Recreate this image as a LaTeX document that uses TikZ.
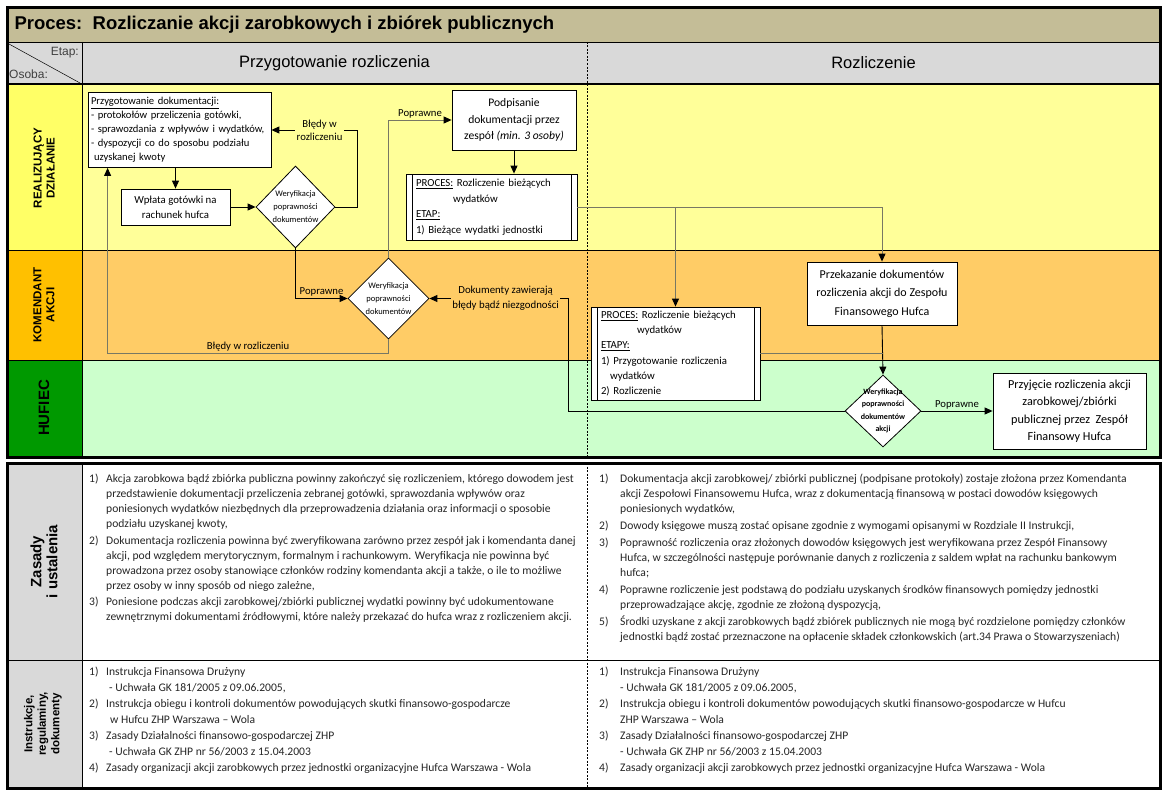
\documentclass[tikz,border=0pt]{standalone}
\usepackage{fontspec}
\setmainfont{Carlito}
\newfontfamily\arialf{Liberation Sans}
\usetikzlibrary{shapes.geometric, arrows.meta, positioning, calc}
\definecolor{titlebar}{RGB}{196,189,151}
\definecolor{headgray}{RGB}{217,217,217}
\definecolor{realcell}{RGB}{255,255,102}
\definecolor{reallane}{RGB}{255,255,153}
\definecolor{komcell}{RGB}{255,192,0}
\definecolor{komlane}{RGB}{255,204,102}
\definecolor{hufcell}{RGB}{0,153,0}
\definecolor{huflane}{RGB}{204,255,204}
\definecolor{linegray}{RGB}{120,120,100}
\newcommand{\numL}[1]{\makebox[17pt][l]{#1}}
\newcommand{\numR}[1]{\makebox[21pt][l]{#1}}

\begin{document}
\begin{tikzpicture}[
    x=1pt, y=-1pt,
    box/.style={
        rectangle, draw=black, line width=0.8pt, fill=white,
        align=center, inner sep=2pt
    },
    procbox/.style={
        box, align=left, inner xsep=10pt, inner ysep=0pt,
        path picture={
            \draw[line width=0.8pt] ([xshift=6pt]path picture bounding box.north west) -- ([xshift=6pt]path picture bounding box.south west);
            \draw[line width=0.8pt] ([xshift=-6pt]path picture bounding box.north east) -- ([xshift=-6pt]path picture bounding box.south east);
        }
    },
    decision/.style={
        diamond, draw=black, line width=0.8pt, fill=white, inner sep=0pt
    },
    dtext/.style={font=\fontsize{8.5}{13}\selectfont, align=center, inner sep=0pt},
    conn/.style={-{Triangle[length=8pt, width=7pt, black]}, line width=0.9pt, draw=black},
    conng/.style={conn, draw=linegray},
    lbl/.style={font=\fontsize{10.7}{13}\selectfont, align=center, inner sep=1.5pt},
    lanelabel/.style={rotate=90, font=\arialf\bfseries\fontsize{11.5}{13}\selectfont, align=center},
    ruletext/.style={anchor=north west, align=left, inner sep=0pt, text=black!85, font=\fontsize{11.6}{15}\selectfont}
]

% Background and bounding box
\fill[white] (0,0) rectangle (1169,792);

% Title and header
\fill[titlebar] (7,8) rectangle (1160,42);
\node[anchor=west, font=\arialf\bfseries\fontsize{18.5}{20}\selectfont] (title) at (11,25) {Proces:\ \ Rozliczanie akcji zarobkowych i zbiórek publicznych};
\fill[headgray] (7,42) rectangle (1160,84);
\node[font=\arialf\fontsize{16.5}{18}\selectfont] (etap1) at (334.5,63) {Przygotowanie rozliczenia};
\node[font=\arialf\fontsize{16.5}{18}\selectfont] (etap2) at (873.5,63) {Rozliczenie};
\node[anchor=east, font=\arialf\fontsize{12}{13}\selectfont, text=black!75, inner sep=1pt] (etapcap) at (80,53) {Etap:};
\node[anchor=west, font=\arialf\fontsize{12}{13}\selectfont, text=black!75, inner sep=1pt] (osobacap) at (8,74) {Osoba:};
\draw[line width=0.5pt] (9,44) -- (80,83);

% Swimlanes
\fill[realcell] (7,84) rectangle (82,250);
\fill[reallane] (82,84) rectangle (1160,250);
\fill[komcell] (7,250) rectangle (82,360);
\fill[komlane] (82,250) rectangle (1160,360);
\fill[hufcell] (7,360) rectangle (82,457);
\fill[huflane] (82,360) rectangle (1160,457);
\node[lanelabel] (lreal) at (44,168) {REALIZUJĄCY\\DZIAŁANIE};
\node[lanelabel] (lkom) at (44,305) {KOMENDANT\\AKCJI};
\node[lanelabel, font=\arialf\bfseries\fontsize{15}{16}\selectfont] (lhuf) at (44,408) {HUFIEC};

% Lower table
\fill[headgray] (7,463) rectangle (82,788);
\node[lanelabel, font=\arialf\bfseries\fontsize{15}{16}\selectfont] (lzasady) at (44,561.5) {Zasady\\i ustalenia};
\node[lanelabel, font=\arialf\bfseries\fontsize{11.5}{13.5}\selectfont] (linstr) at (43,724) {Instrukcje,\\regulaminy,\\dokumenty};

% Grid lines
\draw[line width=0.6pt] (7,42) -- (1160,42);
\draw[line width=0.6pt] (82,42) -- (82,457);
\draw[line width=0.6pt] (7,250) -- (1160,250);
\draw[line width=0.6pt] (7,360) -- (1160,360);
\draw[line width=0.6pt] (82,463) -- (82,788);
\draw[line width=0.6pt] (7,660) -- (1160,660);
\draw[line width=0.5pt, dash pattern=on 2pt off 1.5pt] (587,42) -- (587,457);
\draw[line width=0.5pt, dash pattern=on 2pt off 1.5pt] (587,463) -- (587,788);
\draw[line width=2.5pt] (7,84) -- (1160,84);
\draw[line width=3pt] (7,8) rectangle (1160,457);
\draw[line width=3pt] (7,463) rectangle (1160,788);

% Process steps
\node[box, text width=177pt, minimum height=75pt, align=left, inner xsep=3pt, inner ysep=1pt, font=\fontsize{10.6}{14}\selectfont] (prep) at (179.5,130) {\underline{Przygotowanie dokumentacji:}\\- protokołów przeliczenia gotówki,\\- sprawozdania z wpływów i wydatków,\\- dyspozycji co do sposobu podziału\\\hspace*{3pt}uzyskanej kwoty};
\node[box, minimum width=109pt, minimum height=36pt, font=\fontsize{10.8}{15}\selectfont] (wplata) at (175.5,207) {Wpłata gotówki na\\rachunek hufca};
\node[decision, minimum width=79pt, minimum height=82pt, label={[dtext]center:{Weryfikacja\\poprawności\\dokumentów}}] (ver1) at (295.5,207) {};
\node[box, minimum width=124pt, minimum height=60pt, font=\fontsize{11.6}{16.5}\selectfont] (podpis) at (514,120) {Podpisanie\\dokumentacji przez\\zespół \textit{(min. 3 osoby)}};
\node[procbox, text width=151pt, minimum height=66pt, font=\fontsize{10.8}{15.5}\selectfont] (proces1) at (491.5,207) {\underline{PROCES:} Rozliczenie bieżących\\\hspace*{37pt}wydatków\\\underline{ETAP:}\\1) Bieżące wydatki jednostki};
\node[decision, minimum width=81pt, minimum height=81pt, label={[dtext]center:{Weryfikacja\\poprawności\\dokumentów}}] (ver2) at (388.5,298.5) {};
\node[box, minimum width=150pt, minimum height=63pt, font=\fontsize{12}{18.5}\selectfont] (przekaz) at (882,293.5) {Przekazanie dokumentów\\rozliczenia akcji do Zespołu\\Finansowego Hufca};
\node[procbox, text width=149pt, minimum height=93pt, font=\fontsize{10.8}{15.2}\selectfont] (proces2) at (675.5,353.5) {\underline{PROCES:} Rozliczenie bieżących\\\hspace*{36pt}wydatków\\\underline{ETAPY:}\\1) Przygotowanie rozliczenia\\\hspace*{9pt}wydatków\\2) Rozliczenie};
\node[decision, minimum width=76pt, minimum height=72pt, label={[dtext, font=\bfseries\fontsize{8}{12.5}\selectfont]center:{Weryfikacja\\poprawności\\dokumentów\\akcji}}] (ver3) at (883,411) {};
\node[box, minimum width=153pt, minimum height=76pt, font=\fontsize{12.2}{17.5}\selectfont] (przyjecie) at (1069.5,411) {Przyjęcie rozliczenia akcji\\zarobkowej/zbiórki\\publicznej przez\ \ Zespół\\Finansowy Hufca};

% Connectors
\draw[conn] (wplata.north |- prep.south) -- (wplata.north);
\draw[conn] (wplata.east) -- (ver1.west);
\draw[conn] (ver1.east) -- ++(22,0) |- node[lbl, pos=0.72, fill=reallane] {Błędy w\\rozliczeniu} (prep.east);
\draw[conn] (ver1.south) |- node[lbl, pos=0.75, above] {Poprawne} (ver2.west);
\draw[conng] (ver2.north) |- node[lbl, pos=0.75, above] {Poprawne} (podpis.west);
\draw[conn] (podpis.south) -- (podpis.south |- proces1.north);
\draw[conng] (ver2.south) -- ++(0,14) -| node[lbl, pos=0.25, above] {Błędy w rozliczeniu} ([xshift=20pt]prep.south west);
\draw[conng] (proces1.east) -| (przekaz.north);
\draw[conng] (proces1.east) -| (proces2.north);
\draw[conn] (przekaz.south) -- (ver3.north);
\draw[line width=0.9pt, draw=linegray] (proces2.east) -- (proces2.east -| ver3.north);
\coordinate (back) at (568,298.5);
\draw[conn] (ver3.west) -| (back) -- node[lbl, pos=0.45, fill=komlane, font=\fontsize{10.8}{15}\selectfont] {Dokumenty zawierają\\błędy bądź niezgodności} (ver2.east);
\draw[conn] (ver3.east) -- node[lbl, above] {Poprawne} (przyjecie.west);

% Rules
\node[ruletext] (zasadyL) at (89,474) {\numL{1)}Akcja zarobkowa bądź zbiórka publiczna powinny zakończyć się rozliczeniem, którego dowodem jest\\
\hspace*{17pt}przedstawienie dokumentacji przeliczenia zebranej gotówki, sprawozdania wpływów oraz\\
\hspace*{17pt}poniesionych wydatków niezbędnych dla przeprowadzenia działania oraz informacji o sposobie\\
\hspace*{17pt}podziału uzyskanej kwoty,\\[1.5pt]
\numL{2)}Dokumentacja rozliczenia powinna być zweryfikowana zarówno przez zespół jak i komendanta danej\\
\hspace*{17pt}akcji, pod względem merytorycznym, formalnym i rachunkowym. Weryfikacja nie powinna być\\
\hspace*{17pt}prowadzona przez osoby stanowiące członków rodziny komendanta akcji a także, o ile to możliwe\\
\hspace*{17pt}przez osoby w inny sposób od niego zależne,\\[1.5pt]
\numL{3)}Poniesione podczas akcji zarobkowej/zbiórki publicznej wydatki powinny być udokumentowane\\
\hspace*{17pt}zewnętrznymi dokumentami źródłowymi, które należy przekazać do hufca wraz z rozliczeniem akcji.};

\node[ruletext] (zasadyR) at (599,474) {\numR{1)}Dokumentacja akcji zarobkowej/ zbiórki publicznej (podpisane protokoły) zostaje złożona przez Komendanta\\
\hspace*{21pt}akcji Zespołowi Finansowemu Hufca, wraz z dokumentacją finansową w postaci dowodów księgowych\\
\hspace*{21pt}poniesionych wydatków,\\[2pt]
\numR{2)}Dowody księgowe muszą zostać opisane zgodnie z wymogami opisanymi w Rozdziale II Instrukcji,\\[2pt]
\numR{3)}Poprawność rozliczenia oraz złożonych dowodów księgowych jest weryfikowana przez Zespół Finansowy\\
\hspace*{21pt}Hufca, w szczególności następuje porównanie danych z rozliczenia z saldem wpłat na rachunku bankowym\\
\hspace*{21pt}hufca;\\[2pt]
\numR{4)}Poprawne rozliczenie jest podstawą do podziału uzyskanych środków finansowych pomiędzy jednostki\\
\hspace*{21pt}przeprowadzające akcję, zgodnie ze złożoną dyspozycją,\\[2pt]
\numR{5)}Środki uzyskane z akcji zarobkowych bądź zbiórek publicznych nie mogą być rozdzielone pomiędzy członków\\
\hspace*{21pt}jednostki bądź zostać przeznaczone na opłacenie składek członkowskich (art.34 Prawa o Stowarzyszeniach)};

% Instructions
\node[ruletext, font=\fontsize{11.6}{16}\selectfont] (instrL) at (89,667) {\numL{1)}Instrukcja Finansowa Drużyny\\
\hspace*{20pt}- Uchwała GK 181/2005 z 09.06.2005,\\
\numL{2)}Instrukcja obiegu i kontroli dokumentów powodujących skutki finansowo-gospodarcze\\
\hspace*{21pt}w Hufcu ZHP Warszawa – Wola\\
\numL{3)}Zasady Działalności finansowo-gospodarczej ZHP\\
\hspace*{20pt}- Uchwała GK ZHP nr 56/2003 z 15.04.2003\\
\numL{4)}Zasady organizacji akcji zarobkowych przez jednostki organizacyjne Hufca Warszawa - Wola};

\node[ruletext, font=\fontsize{11.6}{16}\selectfont] (instrR) at (599,667) {\numR{1)}Instrukcja Finansowa Drużyny\\
\hspace*{21pt}- Uchwała GK 181/2005 z 09.06.2005,\\
\numR{2)}Instrukcja obiegu i kontroli dokumentów powodujących skutki finansowo-gospodarcze w Hufcu\\
\hspace*{21pt}ZHP Warszawa – Wola\\
\numR{3)}Zasady Działalności finansowo-gospodarczej ZHP\\
\hspace*{21pt}- Uchwała GK ZHP nr 56/2003 z 15.04.2003\\
\numR{4)}Zasady organizacji akcji zarobkowych przez jednostki organizacyjne Hufca Warszawa - Wola};

\end{tikzpicture}
\end{document}
